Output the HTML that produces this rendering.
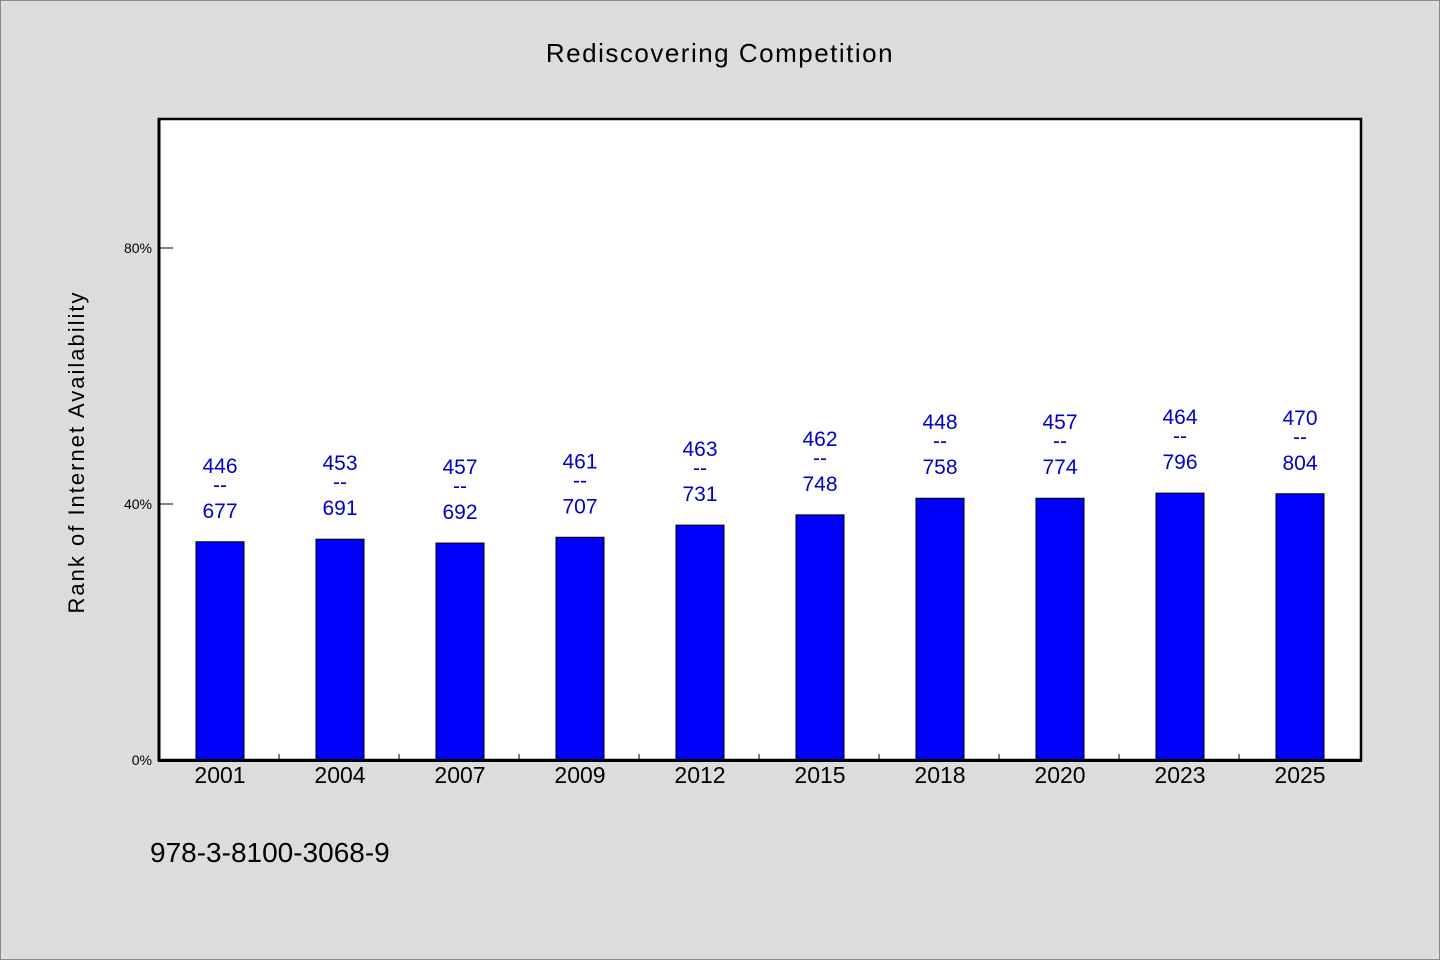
<!DOCTYPE html>
<html><head><meta charset="utf-8"><style>
html,body{margin:0;padding:0;background:#dcdcdc;}
svg{display:block;font-family:"WenQuanYi Zen Hei","Liberation Sans",sans-serif;}
</style></head><body>
<svg id="chart" width="1440" height="960" xmlns="http://www.w3.org/2000/svg">
<rect x="0.5" y="0.5" width="1439" height="959" fill="#dcdcdc" stroke="#888"/>
<text x="720" y="62" text-anchor="middle" font-size="26" letter-spacing="1.5" fill="#000">Rediscovering Competition</text>
<rect x="159" y="119" width="1202" height="641" fill="#fff" stroke="#000" stroke-width="2.5"/>
<text transform="translate(84,452) rotate(-90)" text-anchor="middle" font-size="22" letter-spacing="2" fill="#000">Rank of Internet Availability</text>
<text x="150" y="862" font-size="28" fill="#000">978-3-8100-3068-9</text>
<g id="marks"></g>
<line x1="159" y1="119" x2="159" y2="761" stroke="#000" stroke-width="3"/>
<line x1="158" y1="760.5" x2="1362" y2="760.5" stroke="#000" stroke-width="3"/>
</svg>
<script>
const categories = ["2001","2004","2007","2009","2012","2015","2018","2020","2023","2025"];
const barValues = [34.1,34.5,33.9,34.8,36.7,38.3,40.9,40.9,41.7,41.6];
const topLabels = ["446","453","457","461","463","462","448","457","464","470"];
const bottomLabels = ["677","691","692","707","731","748","758","774","796","804"];
const yTicks = [0,40,80];
const yTickLabels = ["0%","40%","80%"];

const NS = "http://www.w3.org/2000/svg";
const g = document.getElementById("marks");
const x0 = 159, bandW = 120, barW = 48;
const y = v => 760 - v * 6.4;
const xc = i => x0 + bandW * i + bandW / 2 + 1;
function mk(tag, attrs, txt){const e=document.createElementNS(NS,tag);for(const k in attrs)e.setAttribute(k,attrs[k]);if(txt!==undefined)e.textContent=txt;g.appendChild(e);return e;}

yTicks.forEach((t,i)=>{
  const l = mk("line",{x1:159,x2:173,y1:y(t),y2:y(t),stroke:"#000","stroke-width":1});
  
  
  const tx = mk("text",{x:152,y:y(t)+5,"text-anchor":"end","font-size":14,fill:"#000"},yTickLabels[i]);
  
  
});
categories.forEach((c,i)=>{
  if(i>0){
    const l = mk("line",{x1:x0+bandW*i,x2:x0+bandW*i,y1:754,y2:760,stroke:"#000","stroke-width":1});
    
    
  }
  const cx = xc(i), top = y(barValues[i]);
  const b = mk("rect",{x:cx-barW/2,y:top,width:barW,height:760-top,fill:"#0000ff",stroke:"#000","stroke-width":1});
  
  
  const xl = mk("text",{x:cx,y:783,"text-anchor":"middle","font-size":23,fill:"#000"},c);
  
  
  const t1 = mk("text",{x:cx,y:top-69,"text-anchor":"middle","font-size":21,fill:"#0000cc"},topLabels[i]);
  
  
  const t2 = mk("text",{x:cx,y:top-50,"text-anchor":"middle","font-size":21,fill:"#0000cc"},"--");
  
  
  const t3 = mk("text",{x:cx,y:top-24,"text-anchor":"middle","font-size":21,fill:"#0000cc"},bottomLabels[i]);
  
  
});
</script>
</body></html>
